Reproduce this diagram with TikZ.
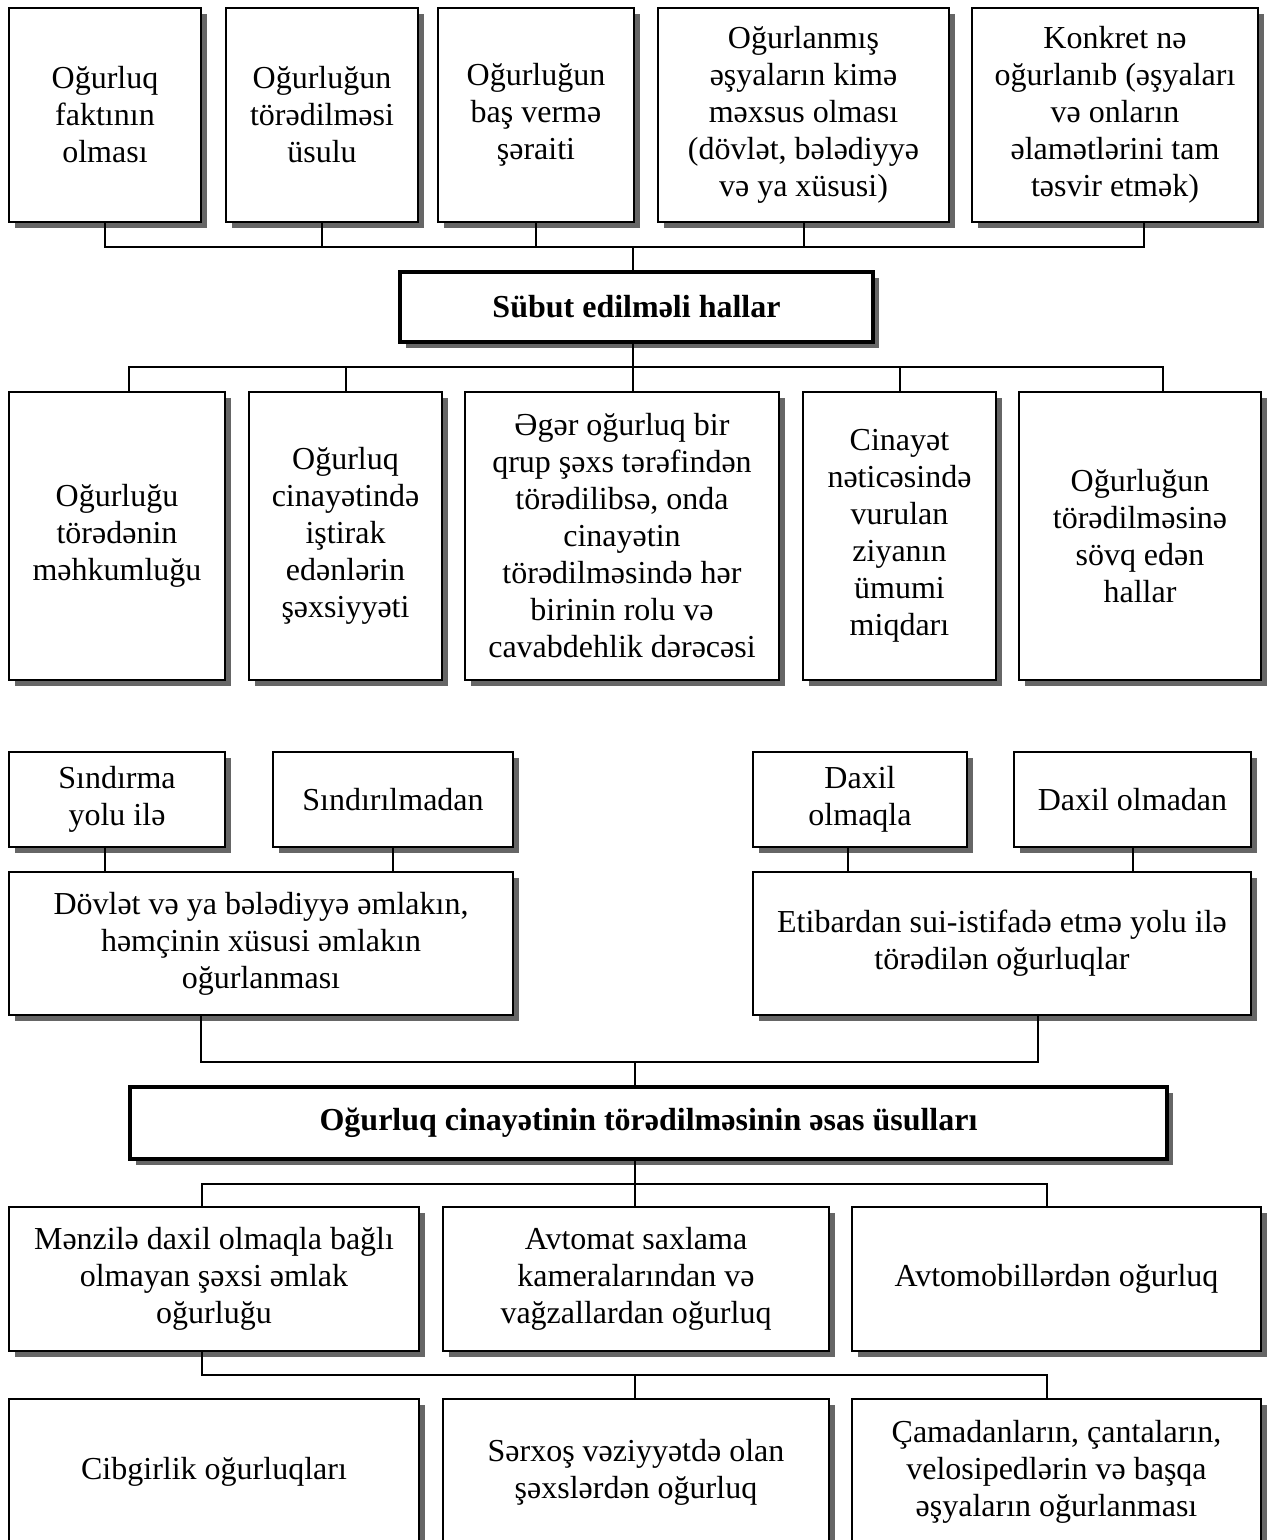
\documentclass[tikz,border=0pt]{standalone}
\usepackage{fontspec}
\setmainfont{Liberation Serif}
\usetikzlibrary{shadows}
\newcommand{\bodyfont}{\fontsize{32pt}{37pt}\selectfont}
\tikzset{
  bx/.style={draw, line width=2pt, fill=white, inner sep=0pt, align=center,
    font=\bodyfont,
    drop shadow={shadow xshift=6pt, shadow yshift=-6pt, fill=black!60, opacity=1}},
  tbx/.style={bx, line width=3.5pt, font=\bodyfont\bfseries},
  ln/.style={draw, line width=2pt}
}
\newcommand{\bxnode}[7][bx]{%
  \pgfmathsetmacro\bxcx{(#3+#5)/2}%
  \pgfmathsetmacro\bxcy{(#4+#6)/2}%
  \pgfmathsetmacro\bxww{#5-#3}%
  \pgfmathsetmacro\bxhh{#6-#4}%
  \node[#1, minimum width=\bxww pt, minimum height=\bxhh pt] (#2) at (\bxcx,\bxcy) {#7};}
\begin{document}
\begin{tikzpicture}[x=1pt,y=-1pt]
\useasboundingbox (0,0) rectangle (1269,1540);
% top row
\bxnode{t1}{9}{8}{201}{222}{Oğurluq\\faktının\\olması}
\bxnode{t2}{226}{8}{418}{222}{Oğurluğun\\törədilməsi\\üsulu}
\bxnode{t3}{438}{8}{634}{222}{Oğurluğun\\baş vermə\\şəraiti}
\bxnode{t4}{658}{8}{949}{222}{Oğurlanmış\\əşyaların kimə\\məxsus olması\\(dövlət, bələdiyyə\\və ya xüsusi)}
\bxnode{t5}{972}{8}{1258}{222}{Konkret nə\\oğurlanıb (əşyaları\\və onların\\əlamətlərini tam\\təsvir etmək)}
\bxnode[tbx]{s}{400}{272}{873}{342}{Sübut edilməli hallar}
% second row
\bxnode{r1}{9}{392}{225}{680}{Oğurluğu\\törədənin\\məhkumluğu}
\bxnode{r2}{249}{392}{442}{680}{Oğurluq\\cinayətində\\iştirak\\edənlərin\\şəxsiyyəti}
\bxnode{r3}{465}{392}{779}{680}{Əgər oğurluq bir\\qrup şəxs tərəfindən\\törədilibsə, onda\\cinayətin\\törədilməsində hər\\birinin rolu və\\cavabdehlik dərəcəsi}
\bxnode{r4}{803}{392}{996}{680}{Cinayət\\nəticəsində\\vurulan\\ziyanın\\ümumi\\miqdarı}
\bxnode{r5}{1019}{392}{1261}{680}{Oğurluğun\\törədilməsinə\\sövq edən\\hallar}
% middle
\bxnode{m1}{9}{752}{225}{847}{Sındırma\\yolu ilə}
\bxnode{m2}{273}{752}{513}{847}{Sındırılmadan}
\bxnode{m3}{753}{752}{967}{847}{Daxil\\olmaqla}
\bxnode{m4}{1014}{752}{1251}{847}{Daxil olmadan}
\bxnode{L}{9}{872}{513}{1015}{Dövlət və ya bələdiyyə əmlakın,\\həmçinin xüsusi əmlakın\\oğurlanması}
\bxnode{R}{753}{872}{1251}{1015}{Etibardan sui-istifadə etmə yolu ilə\\törədilən oğurluqlar}
\bxnode[tbx]{O}{130}{1087}{1167}{1159}{Oğurluq cinayətinin törədilməsinin əsas üsulları}
% fourth row
\bxnode{p1}{9}{1207}{419}{1351}{Mənzilə daxil olmaqla bağlı\\olmayan şəxsi əmlak\\oğurluğu}
\bxnode{p2}{443}{1207}{829}{1351}{Avtomat saxlama\\kameralarından və\\vağzallardan oğurluq}
\bxnode{p3}{852}{1207}{1261}{1351}{Avtomobillərdən oğurluq}
% bottom row
\bxnode{q1}{9}{1399}{419}{1545}{Cibgirlik oğurluqları}
\bxnode{q2}{443}{1399}{829}{1545}{Sərxoş vəziyyətdə olan\\şəxslərdən oğurluq}
\bxnode{q3}{852}{1399}{1261}{1545}{Çamadanların, çantaların,\\velosipedlərin və başqa\\əşyaların oğurlanması}
% connectors top
\coordinate (bus1) at (633,247);
\draw[ln] (t1.south) |- (bus1) -| ([xshift=29pt]t5.south);
\draw[ln] (t2.south) -- (t2.south |- bus1);
\draw[ln] (t3.south) -- (t3.south |- bus1);
\draw[ln] (t4.south) -- (t4.south |- bus1);
\draw[ln] (bus1) -- (bus1 |- s.north);
\coordinate (bus2) at (633,367);
\draw[ln] (bus2 |- s.south) -- (bus2 |- r3.north);
\draw[ln] ([xshift=12pt]r1.north) |- (bus2) -| ([xshift=23pt]r5.north);
\draw[ln] (r2.north) -- (r2.north |- bus2);
\draw[ln] (r4.north) -- (r4.north |- bus2);
% middle
\draw[ln] ([xshift=-12pt]m1.south) -- ([xshift=-12pt]m1.south |- L.north);
\draw[ln] (m2.south) -- (m2.south |- L.north);
\draw[ln] ([xshift=-12pt]m3.south) -- ([xshift=-12pt]m3.south |- R.north);
\draw[ln] (m4.south) -- (m4.south |- R.north);
\coordinate (bus3) at (635,1062);
\draw[ln] ([xshift=-60pt]L.south) |- (bus3) -| ([xshift=36pt]R.south);
\draw[ln] (bus3) -- (bus3 |- O.north);
\coordinate (bus4) at (635,1184);
\draw[ln] (bus4 |- O.south) -- (bus4 |- p2.north);
\draw[ln] ([xshift=-12pt]p1.north) |- (bus4) -| ([xshift=-10pt]p3.north);
\coordinate (bus5) at (635,1375);
\draw[ln] ([xshift=-12pt]p1.south) |- (bus5) -| ([xshift=-10pt]q3.north);
\draw[ln] (bus5) -- (bus5 |- q2.north);
\end{tikzpicture}
\end{document}
